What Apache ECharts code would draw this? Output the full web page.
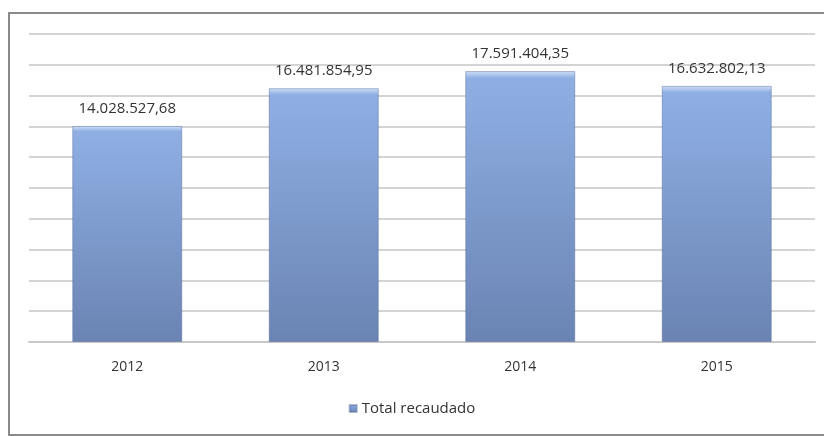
<!DOCTYPE html>
<html>
<head>
<meta charset="utf-8">
<script src="https://cdn.jsdelivr.net/npm/echarts@6/dist/echarts.min.js"></script>
<style>
  html, body { margin: 0; padding: 0; background: #fff; }
  #chart { width: 824px; height: 436px; }
</style>
</head>
<body>
<div id="chart"></div>
<script>
(function() {
  const years = ['2012', '2013', '2014', '2015'];
  const totals = [14028527.68, 16481854.95, 17591404.35, 16632802.13];
  const seriesName = 'Total recaudado';
  const yMax = 20000000;
  const yStep = 2000000;

  // 14028527.68 -> "14.028.527,68"
  const fmt = (v) => {
    const parts = v.toFixed(2).split('.');
    return parts[0].replace(/\B(?=(\d{3})+(?!\d))/g, '.') + ',' + parts[1];
  };

  const barColor = new echarts.graphic.LinearGradient(0, 0, 0, 1, [
    { offset: 0, color: '#d3e2f8' },
    { offset: 0.025, color: '#8fafe3' },
    { offset: 0.5, color: '#7d9acc' },
    { offset: 1, color: '#6a83b3' }
  ]);

  const option = {
    animation: false,
    textStyle: { fontFamily: 'Open Sans, Liberation Sans, sans-serif' },
    graphic: [{
      type: 'rect',
      shape: { x: 9, y: 13, width: 830, height: 422 },
      style: { fill: 'none', stroke: '#8a8a8a', lineWidth: 2 },
      silent: true
    }],
    grid: { left: 29, right: 9, top: 34, bottom: 94 },
    legend: {
      bottom: 15,
      left: 'center',
      icon: 'rect',
      itemWidth: 7,
      itemHeight: 7,
      itemGap: 6,
      textStyle: { fontSize: 15, color: '#333' },
      data: [seriesName]
    },
    xAxis: {
      type: 'category',
      data: years,
      axisLine: { lineStyle: { color: '#c8c8c8', width: 2 } },
      axisTick: { show: false },
      axisLabel: { fontSize: 14, color: '#333', margin: 18 }
    },
    yAxis: {
      type: 'value',
      min: 0,
      max: yMax,
      interval: yStep,
      axisLabel: { show: false },
      axisLine: { show: false },
      axisTick: { show: false },
      splitLine: { lineStyle: { color: '#d4d4d4', width: 2 } }
    },
    series: [{
      name: seriesName,
      type: 'bar',
      data: totals,
      barWidth: '56%',
      itemStyle: {
        color: barColor,
        borderColor: 'rgba(80,105,150,0.45)',
        borderWidth: 1
      },
      label: {
        show: true,
        position: 'top',
        distance: 10,
        fontSize: 15,
        color: '#333',
        formatter: (p) => fmt(p.value)
      }
    }],
    color: ['#7f9dd0']
  };

  const chart = echarts.init(document.getElementById('chart'));
  chart.setOption(option);
}());
</script>
</body>
</html>
